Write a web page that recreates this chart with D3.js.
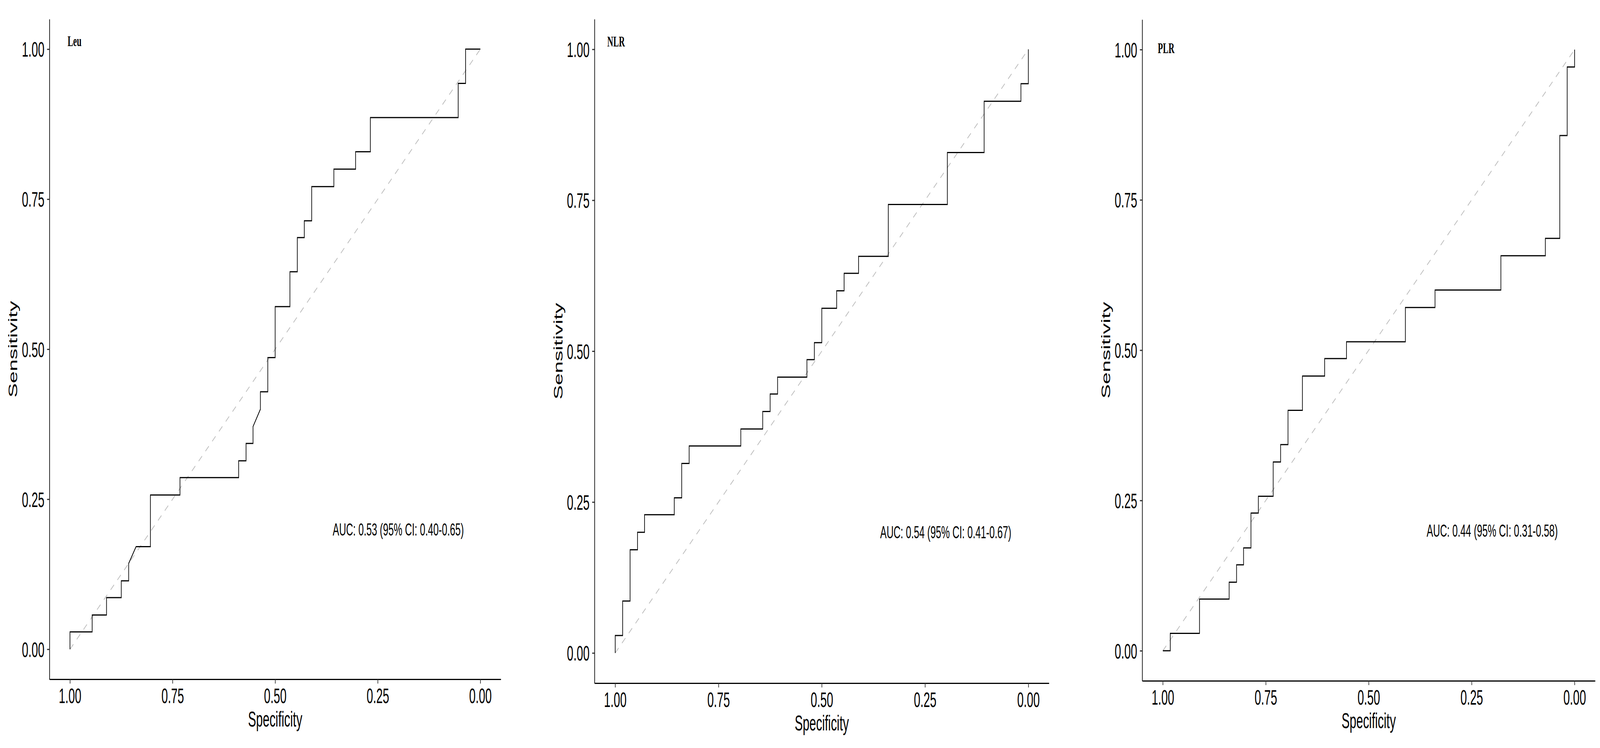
<!DOCTYPE html>
<html>
<head>
<meta charset="utf-8">
<script src="https://cdn.jsdelivr.net/npm/d3@7"></script>
<style>
  html, body { margin: 0; padding: 0; background: #fff; overflow: hidden; }
</style>
</head>
<body>
<div id="chart"></div>
<script>
// ROC curves, one panel per marker: x = specificity (reversed), y = sensitivity
const panelNames = ['Leu', 'NLR', 'PLR'];
const aucLabels = [
  'AUC: 0.53 (95% CI: 0.40-0.65)',
  'AUC: 0.54 (95% CI: 0.41-0.67)',
  'AUC: 0.44 (95% CI: 0.31-0.58)'
];
const tickValues = [0, 0.25, 0.5, 0.75, 1];
const diagonal = [[1, 0], [0, 1]];

const leuSpec = [1.000, 1.000, 0.946, 0.946, 0.911, 0.911, 0.875, 0.875, 0.857, 0.857,
  0.839, 0.804, 0.804, 0.732, 0.732, 0.589, 0.589, 0.571, 0.571, 0.554,
  0.554, 0.536, 0.536, 0.518, 0.518, 0.500, 0.500, 0.464, 0.464, 0.446,
  0.446, 0.429, 0.429, 0.411, 0.411, 0.357, 0.357, 0.304, 0.304, 0.268,
  0.268, 0.054, 0.054, 0.036, 0.036, 0.000];
const leuSens = [0.000, 0.029, 0.029, 0.057, 0.057, 0.086, 0.086, 0.114, 0.114, 0.143,
  0.171, 0.171, 0.257, 0.257, 0.286, 0.286, 0.314, 0.314, 0.343, 0.343,
  0.371, 0.400, 0.429, 0.429, 0.486, 0.486, 0.571, 0.571, 0.629, 0.629,
  0.686, 0.686, 0.714, 0.714, 0.771, 0.771, 0.800, 0.800, 0.829, 0.829,
  0.886, 0.886, 0.943, 0.943, 1.000, 1.000];

const nlrSpec = [1.000, 1.000, 0.982, 0.982, 0.964, 0.964, 0.946, 0.946, 0.929, 0.929,
  0.857, 0.857, 0.839, 0.839, 0.821, 0.821, 0.696, 0.696, 0.643, 0.643,
  0.625, 0.625, 0.607, 0.607, 0.536, 0.536, 0.518, 0.518, 0.500, 0.500,
  0.464, 0.464, 0.446, 0.446, 0.411, 0.411, 0.339, 0.339, 0.196, 0.196,
  0.107, 0.107, 0.018, 0.018, 0.000, 0.000];
const nlrSens = [0.000, 0.029, 0.029, 0.086, 0.086, 0.171, 0.171, 0.200, 0.200, 0.229,
  0.229, 0.257, 0.257, 0.314, 0.314, 0.343, 0.343, 0.371, 0.371, 0.400,
  0.400, 0.429, 0.429, 0.457, 0.457, 0.486, 0.486, 0.514, 0.514, 0.571,
  0.571, 0.600, 0.600, 0.629, 0.629, 0.657, 0.657, 0.743, 0.743, 0.829,
  0.829, 0.914, 0.914, 0.943, 0.943, 1.000];

const plrSpec = [1.000, 0.982, 0.982, 0.911, 0.911, 0.839, 0.839, 0.821, 0.821, 0.804,
  0.804, 0.786, 0.786, 0.768, 0.768, 0.732, 0.732, 0.714, 0.714, 0.696,
  0.696, 0.661, 0.661, 0.607, 0.607, 0.554, 0.554, 0.411, 0.411, 0.339,
  0.339, 0.179, 0.179, 0.071, 0.071, 0.036, 0.036, 0.018, 0.018, 0.000,
  0.000];
const plrSens = [0.000, 0.000, 0.029, 0.029, 0.086, 0.086, 0.114, 0.114, 0.143, 0.143,
  0.171, 0.171, 0.229, 0.229, 0.257, 0.257, 0.314, 0.314, 0.343, 0.343,
  0.400, 0.400, 0.457, 0.457, 0.486, 0.486, 0.514, 0.514, 0.571, 0.571,
  0.600, 0.600, 0.657, 0.657, 0.686, 0.686, 0.857, 0.857, 0.971, 0.971,
  1.000];

const width = 7309;
const height = 1915;

// pixel frame of each panel (the three plots were laid side by side)
const panels = [
  {name: panelNames[0], auc: aucLabels[0], spec: leuSpec, sens: leuSens,
   left: 226, right: 2288, top: 49, bottom: 1739, tag: [0.989, 1.013]},
  {name: panelNames[1], auc: aucLabels[1], spec: nlrSpec, sens: nlrSens,
   left: 2716, right: 4792, top: 49, bottom: 1749, tag: [0.998, 1.013]},
  {name: panelNames[2], auc: aucLabels[2], spec: plrSpec, sens: plrSens,
   left: 5218, right: 7287, top: 50, bottom: 1743, tag: [0.992, 1.002]}
];

// scale the whole drawing to whatever window it is opened in
const svg = d3.select('#chart')
  .append('svg')
    .attr('viewBox', '0 0 ' + width + ' ' + height)
    .attr('preserveAspectRatio', 'none')
    .style('width', '100vw')
    .style('height', '100vh')
    .style('display', 'block');

const sans = 'Liberation Sans, Arial, sans-serif';

panels.forEach(p => {
  const x = d3.scaleLinear()
    .domain([1.05, -0.05])
    .range([p.left, p.right]);
  const y = d3.scaleLinear()
    .domain([-0.05, 1.05])
    .range([p.bottom, p.top]);

  const g = svg.append('g');
  const line = d3.line()
    .x(d => x(d[0]))
    .y(d => y(d[1]));

  // chance line
  g.append('path')
    .datum(diagonal)
    .attr('d', line)
    .attr('fill', 'none')
    .attr('stroke', '#bebebe')
    .attr('stroke-width', 2.7)
    .attr('stroke-dasharray', '20,20');

  // ROC curve
  g.append('path')
    .datum(p.spec.map((s, i) => [s, p.sens[i]]))
    .attr('d', line)
    .attr('fill', 'none')
    .attr('stroke', '#000')
    .attr('stroke-width', 3);

  // axes
  const xAxis = g.append('g')
    .attr('transform', 'translate(0,' + p.bottom + ')')
    .call(d3.axisBottom(x)
      .tickValues(tickValues)
      .tickFormat(d3.format('.2f'))
      .tickSize(11)
      .tickPadding(12)
      .tickSizeOuter(0));
  const yAxis = g.append('g')
    .attr('transform', 'translate(' + p.left + ',0)')
    .call(d3.axisLeft(y)
      .tickValues(tickValues)
      .tickFormat(d3.format('.2f'))
      .tickSize(11)
      .tickPadding(12)
      .tickSizeOuter(0));

  [xAxis, yAxis].forEach(a => {
    a.attr('font-family', sans).attr('font-size', 53);
    a.select('.domain').attr('stroke', '#000').attr('stroke-width', 3);
    a.selectAll('.tick line').attr('stroke', '#333').attr('stroke-width', 3);
    a.selectAll('.tick text').attr('fill', '#000');
  });
  yAxis.selectAll('.tick text').attr('dy', '0.36em');

  // axis titles
  g.append('text')
    .attr('x', (p.left + p.right) / 2)
    .attr('y', p.bottom + 121)
    .attr('text-anchor', 'middle')
    .attr('font-family', sans)
    .attr('font-size', 55)
    .text('Specificity');
  g.append('text')
    .attr('transform', 'translate(' + (p.left - 147) + ',' + ((p.top + p.bottom) / 2) + ') rotate(-90)')
    .attr('text-anchor', 'middle')
    .attr('font-family', sans)
    .attr('font-size', 55)
    .text('Sensitivity');

  // panel tag and AUC annotation
  g.append('text')
    .attr('x', x(p.tag[0]))
    .attr('y', y(p.tag[1]))
    .attr('dy', '0.33em')
    .attr('text-anchor', 'middle')
    .attr('font-family', 'Liberation Serif, Times New Roman, serif')
    .attr('font-weight', 'bold')
    .attr('font-size', 38)
    .text(p.name);
  g.append('text')
    .attr('x', x(0.2))
    .attr('y', y(0.2))
    .attr('dy', '0.36em')
    .attr('text-anchor', 'middle')
    .attr('font-family', sans)
    .attr('font-size', 44)
    .text(p.auc);
});
</script>
</body>
</html>
